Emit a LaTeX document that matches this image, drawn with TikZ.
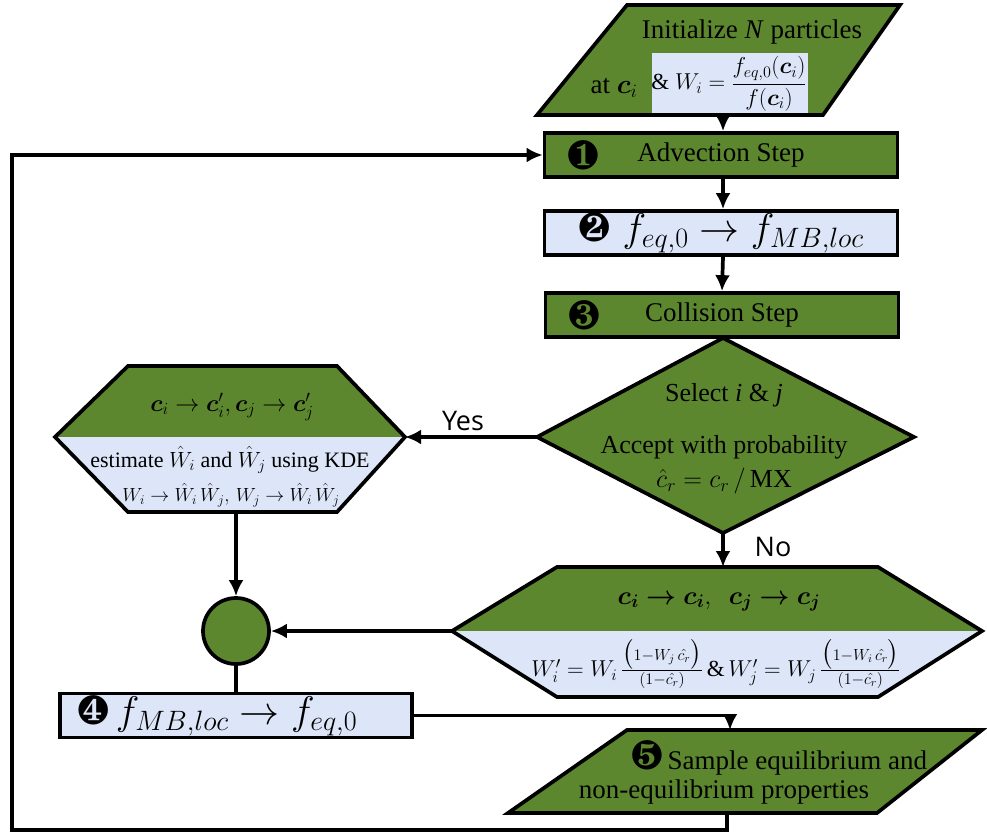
\RequirePackage{fix-cm}
\documentclass[tikz,border=0pt]{standalone}
\usepackage{amsmath}
\usepackage{bm}
\usepackage{pifont}
\usepackage{fontspec}
\setmainfont{Liberation Serif}
\newfontfamily\answerfont{Open Sans}
\usetikzlibrary{arrows.meta,positioning}
\definecolor{leaf}{RGB}{93,135,47}
\definecolor{pale}{RGB}{220,230,248}
\newcommand{\stepno}[1]{{\fontsize{41}{41}\selectfont\ding{#1}}}
\tikzset{
  edge/.style={line width=3.7pt},
  flow/.style={edge, -{Latex[length=16pt,width=15pt]}},
  stepbox/.style={rectangle, draw, edge, fill=leaf, minimum width=353pt, minimum height=44pt, inner sep=0pt, font=\fontsize{27}{30}\selectfont},
  mathbox/.style={stepbox, fill=pale, font=\fontsize{40}{40}\selectfont},
  say/.style={inner sep=0pt, align=center, font=\fontsize{27}{30}\selectfont},
  small/.style={say, font=\fontsize{22}{30}\selectfont},
  answer/.style={inner sep=0pt, font=\answerfont\fontsize{27}{30}\selectfont}
}
\begin{document}
\begin{tikzpicture}[x=1pt,y=-1pt]
  \useasboundingbox (0,0) rectangle (987,838);
  \fill[leaf] (627,5) -- (900,5) -- (823,115) -- (537,115) -- cycle;
  \fill[pale] (652,53) rectangle (808,115);
  \draw[edge] (627,5) -- (900,5) -- (823,115) -- (537,115) -- cycle;
  \coordinate (init-s) at (723,115);
  \node[say] (init-t) at (752,32) {Initialize \textit{N} particles};
  \node[say] (init-a) at (614,88) {at $\bm{c}_i$};
  \node[small, font=\fontsize{23}{30}\selectfont] (init-w) at (729,84) {\& $W_i=\dfrac{f_{eq,0}(\bm{c}_i)}{f(\bm{c}_i)}$};

  \node[stepbox] (adv) at (721,155) {Advection Step};
  \node at (583,155) (adv-no) {\stepno{182}};
  \node[mathbox] (eq) at (721,233) {\stepno{183}\hspace{12pt}$f_{eq,0}\rightarrow f_{MB,loc}$};
  \node[stepbox] (coll) at (722,315) {Collision Step};
  \node at (584,315) (coll-no) {\stepno{184}};

  \draw[edge, fill=leaf] (723,338) coordinate (sel-n) -- (914,437) coordinate (sel-e)
    -- (723,533) coordinate (sel-s) -- (537,437) coordinate (sel-w) -- cycle;
  \node[say, font=\fontsize{26}{34}\selectfont] (sel-t) at (724,395) {Select \textit{i} \& \textit{j}};
  \node[say, font=\fontsize{26}{34}\selectfont] (sel-p) at (724,465) {Accept with probability\\$\hat{c}_r=c_r\,/\,$MX};

  \fill[leaf] (55,437) -- (128,366) -- (337,366) -- (405,437) -- cycle;
  \fill[pale] (55,437) -- (128,512) -- (337,512) -- (405,437) -- cycle;
  \draw[edge] (55,437) -- (128,366) -- (337,366) -- (405,437) coordinate (kde-e)
    -- (337,512) -- (128,512) -- cycle;
  \coordinate (kde-s) at (236,512);
  \node[small, font=\fontsize{24}{30}\selectfont] (kde-t) at (232,407) {$\bm{c}_i\rightarrow\bm{c}'_i,\bm{c}_j\rightarrow\bm{c}'_j$};
  \node[small] (kde-b) at (230,460) {estimate $\hat{W}_i$ and $\hat{W}_j$ using KDE};
  \node[small, font=\fontsize{19}{30}\selectfont] (kde-c) at (231,495) {$W_i\rightarrow\hat{W}_i\,\hat{W}_j,\,W_j\rightarrow\hat{W}_i\,\hat{W}_j$};

  \fill[leaf] (452,631) -- (557,567) -- (878,567) -- (982,631) -- cycle;
  \fill[pale] (452,631) -- (557,697) -- (878,697) -- (982,631) -- cycle;
  \draw[edge] (452,631) coordinate (keep-w) -- (557,567) -- (878,567) -- (982,631)
    -- (878,697) -- (557,697) -- cycle;
  \coordinate (keep-n) at (723,567);
  \node[say, font=\fontsize{26}{30}\selectfont] (keep-t) at (719,602) {$\bm{c_i}\bm{\rightarrow}\bm{c_i},\ \ \bm{c_j}\bm{\rightarrow}\bm{c_j}$};
  \node[small, font=\fontsize{23}{30}\selectfont] (keep-b) at (716,664) {$W'_i=W_i\,\frac{\big(1-W_j\,\hat{c_r}\big)}{(1-\hat{c_r})}$\,\&\,$W'_j=W_j\,\frac{\big(1-W_i\,\hat{c_r}\big)}{(1-\hat{c_r})}$};

  \node[circle, draw, edge, fill=leaf, minimum size=66pt] (join) at (236,631) {};
  \node[mathbox, minimum width=352pt] (mb) at (236,715.5) {\makebox[318pt][l]{\stepno{185}\,$f_{MB,loc}\rightarrow f_{eq,0}$}};

  \fill[leaf] (627,730) -- (982,730) -- (877,813) -- (508,813) -- cycle;
  \draw[edge] (627,730) -- (982,730) -- (877,813) -- (508,813) -- cycle;
  \coordinate (samp-n) at (730,730);
  \coordinate (samp-s) at (727,813);
  \coordinate (loop) at (12,830);
  \node[say] (samp-t) at (779,758) {\stepno{186}\,Sample equilibrium and};
  \node[say] (samp-b) at (724,792) {non-equilibrium properties};

  \node[answer] (yes) at (463,421) {Yes};
  \node[answer] (no) at (773,547) {No};

  \begin{scope}[flow]
    \draw (init-s) -- (init-s |- adv.north);
    \draw ([xshift=2pt]adv.south) -- ([xshift=2pt]eq.north);
    \draw ([xshift=2pt]eq.south) -- (coll.north);
    \draw (sel-w) -- (kde-e);
    \draw (sel-s) -- (keep-n);
    \draw (kde-s) -- (join.north);
    \draw (keep-w) -- (join.east);
    \draw (mb.east) -| (samp-n);
    \draw (samp-s) |- (loop) |- (adv.west);
  \end{scope}
  \draw[edge] (join.south) -- (mb.north);
\end{tikzpicture}
\end{document}
